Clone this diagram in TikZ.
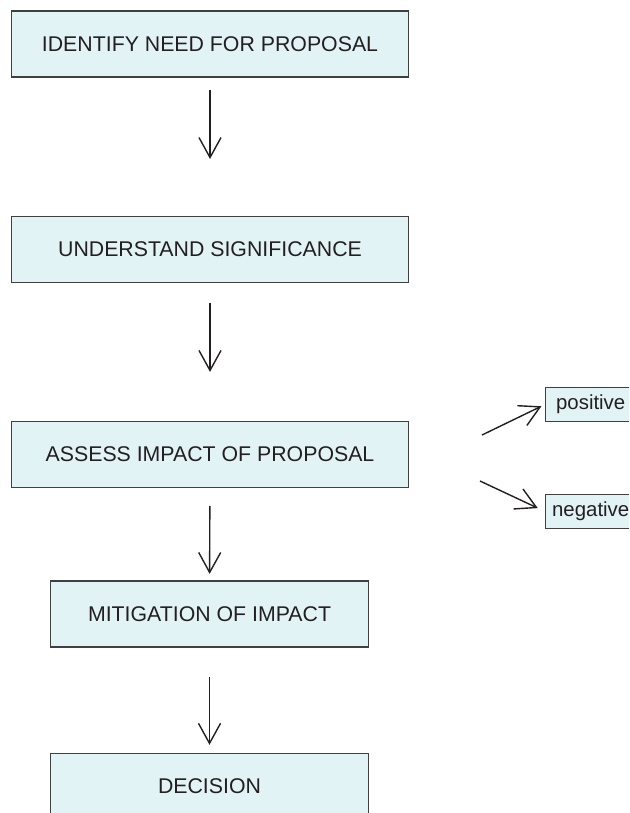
\documentclass[tikz,border=0pt]{standalone}
\usepackage{fontspec}
\setmainfont{Liberation Sans}
\usetikzlibrary{arrows.meta,positioning}
\tikzset{>={Straight Barb[length=20pt,width=22pt]}}
\definecolor{boxfill}{RGB}{226,243,246}
\definecolor{boxline}{RGB}{64,64,64}
\definecolor{ink}{RGB}{35,31,32}
\tikzset{
  stagebox/.style={draw=boxline,fill=boxfill,line width=1.4pt,minimum height=66pt,
    inner sep=0pt,text=ink,font=\fontsize{21.3}{25}\selectfont},
  tagbox/.style={draw=boxline,fill=boxfill,line width=1.4pt,minimum height=34pt,
    minimum width=90pt,inner sep=0pt,anchor=west,text=ink,font=\fontsize{20.4}{24}\selectfont},
  flow/.style={->,line width=1.4pt,draw=ink}
}

\begin{document}
\begin{tikzpicture}[x=1pt,y=-1pt]

\clip (0,0) rectangle (629,813);

  \node[stagebox,minimum width=397pt] (need) at (210,44.2) {IDENTIFY NEED FOR PROPOSAL};
  \node[stagebox,minimum width=397pt] (signif) at (210,249.2) {UNDERSTAND SIGNIFICANCE};
  \node[stagebox,minimum width=397pt] (assess) at (210,454.2) {ASSESS IMPACT OF PROPOSAL};
  \node[stagebox,minimum width=318pt] (mitig) at (209.5,614) {MITIGATION OF IMPACT};
  \node[stagebox,minimum width=318pt] (decide) at (209.5,786.5) {DECISION};

  \node[tagbox] (pos) at (545,404.5) {positive};
  \node[tagbox] (neg) at (545,511.5) {negative};
  \coordinate (up) at (482,435);
  \coordinate (down) at (480,481);

  \draw[flow,shorten <=12pt,shorten >=56.5pt](need)--(signif);
  \draw[flow,shorten <=20pt,shorten >=48.6pt](signif)--(assess);
  \draw[flow,shorten <=18pt,shorten >=6.4pt](assess)--(mitig);
  \draw[flow,shorten <=29.3pt,shorten >=8pt](mitig)--(decide);
  \draw[flow,shorten >=4pt](up)--(pos.west);
  \draw[flow,shorten >=8pt](down)--(neg.west);

\end{tikzpicture}
\end{document}
